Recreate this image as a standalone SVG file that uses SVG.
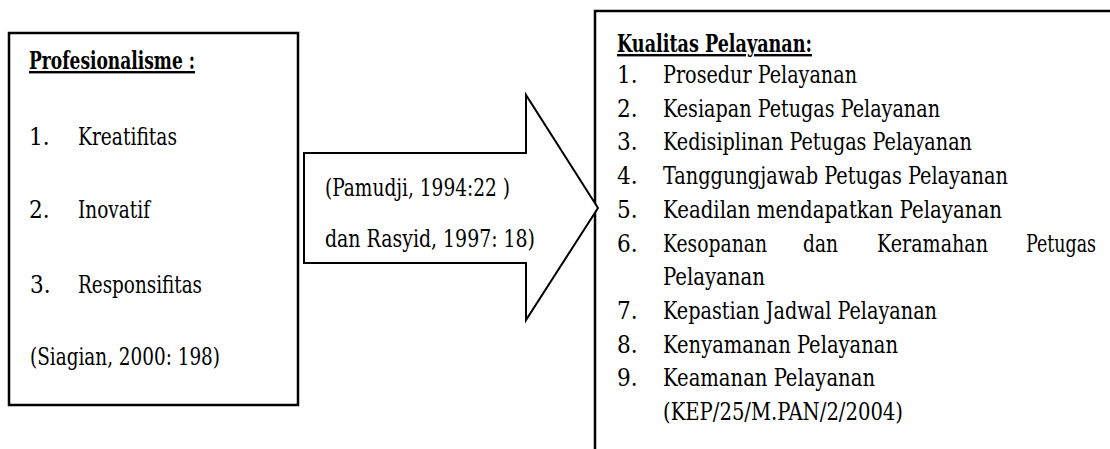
<svg xmlns="http://www.w3.org/2000/svg" width="1110" height="449" viewBox="0 0 1110 449">
<style>
.box{fill:#fff;stroke:#000;stroke-width:2.5}
.arrow{fill:#fff;stroke:#000;stroke-width:2}
text{font-family:"DejaVu Serif Condensed","DejaVu Serif","Liberation Serif",serif;font-stretch:condensed;font-size:24px;fill:#000}
.h{font-weight:bold;text-decoration:underline}
</style>
<rect width="1110" height="449" fill="#fff"/>
<g id="node-profesionalisme">
<rect class="box" x="9" y="33" width="289" height="372"/>
<text class="h" x="29" y="69" textLength="166" lengthAdjust="spacingAndGlyphs">Profesionalisme :</text>
<text x="29" y="145">1.</text>
<text x="78" y="145" textLength="99" lengthAdjust="spacingAndGlyphs">Kreatifitas</text>
<text x="29" y="218">2.</text>
<text x="78" y="218" textLength="72" lengthAdjust="spacingAndGlyphs">Inovatif</text>
<text x="30" y="293">3.</text>
<text x="78" y="293" textLength="124" lengthAdjust="spacingAndGlyphs">Responsifitas</text>
<text x="30" y="365" textLength="190" lengthAdjust="spacingAndGlyphs">(Siagian, 2000: 198)</text>
</g>
<g id="node-kualitas">
<rect class="box" x="595" y="11" width="540" height="460"/>
<text class="h" x="617" y="52" textLength="195" lengthAdjust="spacingAndGlyphs">Kualitas Pelayanan:</text>
<text x="617" y="83">1.</text>
<text x="663" y="83" textLength="194" lengthAdjust="spacingAndGlyphs">Prosedur Pelayanan</text>
<text x="617" y="117">2.</text>
<text x="663" y="117" textLength="277" lengthAdjust="spacingAndGlyphs">Kesiapan Petugas Pelayanan</text>
<text x="617" y="150">3.</text>
<text x="663" y="150" textLength="309" lengthAdjust="spacingAndGlyphs">Kedisiplinan Petugas Pelayanan</text>
<text x="617" y="184">4.</text>
<text x="663" y="184" textLength="345" lengthAdjust="spacingAndGlyphs">Tanggungjawab Petugas Pelayanan</text>
<text x="617" y="218">5.</text>
<text x="663" y="218" textLength="339" lengthAdjust="spacingAndGlyphs">Keadilan mendapatkan Pelayanan</text>
<text x="617" y="252">6.</text>
<text x="663" y="252" textLength="104" lengthAdjust="spacingAndGlyphs">Kesopanan</text>
<text x="803" y="252" textLength="35" lengthAdjust="spacingAndGlyphs">dan</text>
<text x="877" y="252" textLength="111" lengthAdjust="spacingAndGlyphs">Keramahan</text>
<text x="1026" y="252" textLength="70" lengthAdjust="spacingAndGlyphs">Petugas</text>
<text x="663" y="285" textLength="102" lengthAdjust="spacingAndGlyphs">Pelayanan</text>
<text x="617" y="319">7.</text>
<text x="663" y="319" textLength="274" lengthAdjust="spacingAndGlyphs">Kepastian Jadwal Pelayanan</text>
<text x="617" y="353">8.</text>
<text x="663" y="353" textLength="235" lengthAdjust="spacingAndGlyphs">Kenyamanan Pelayanan</text>
<text x="617" y="386">9.</text>
<text x="663" y="386" textLength="212" lengthAdjust="spacingAndGlyphs">Keamanan Pelayanan</text>
<text x="663" y="420" textLength="240" lengthAdjust="spacingAndGlyphs">(KEP/25/M.PAN/2/2004)</text>
</g>
<g id="connectors">
<g id="arrow-main">
<polygon class="arrow" points="304,153 526,153 526,95 598,208 526,320 526,263 304,263"/>
<text x="325" y="196" textLength="185" lengthAdjust="spacingAndGlyphs">(Pamudji, 1994:22 )</text>
<text x="325" y="247" textLength="210" lengthAdjust="spacingAndGlyphs">dan  Rasyid, 1997: 18)</text>
</g>
</g>
</svg>
